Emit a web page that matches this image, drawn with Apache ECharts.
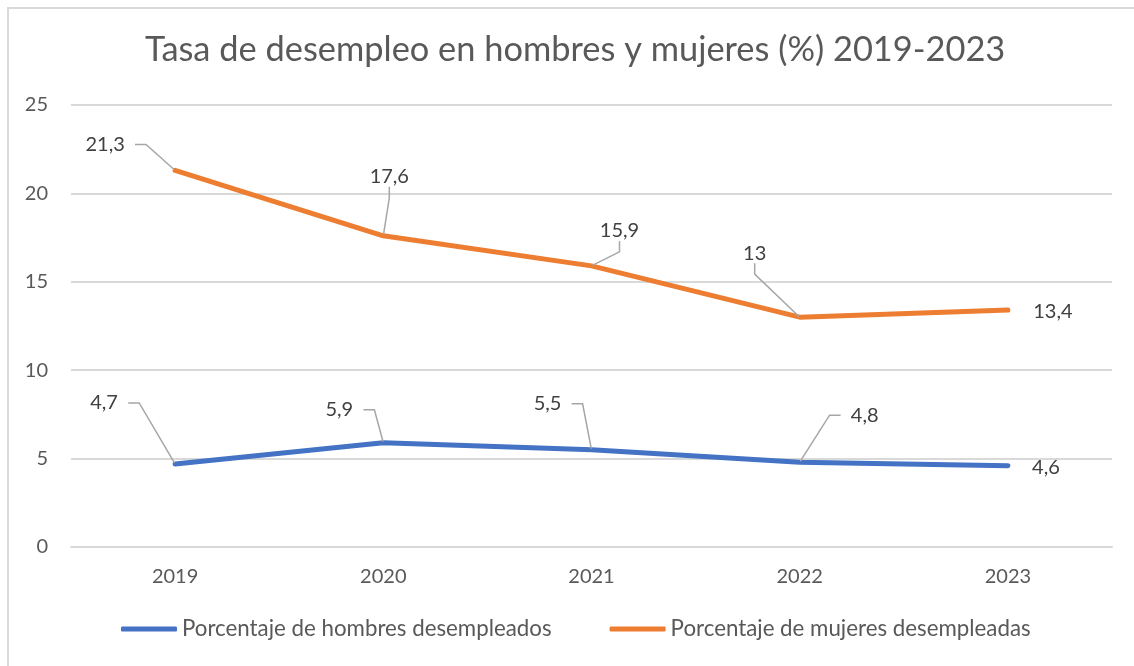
<!DOCTYPE html>
<html>
<head>
<meta charset="utf-8">
<script src="https://cdn.jsdelivr.net/npm/echarts@6/dist/echarts.min.js"></script>
<style>
  html, body { margin: 0; padding: 0; background: #fff; }
  #wrap { position: relative; width: 1134px; height: 666px; }
  #main { width: 1134px; height: 666px; }
  #frame { position: absolute; left: 7px; top: 7px; right: -2px; bottom: -2px;
           border-top: 2px solid #d9d9d9; border-left: 2px solid #d9d9d9; pointer-events: none; }
</style>
</head>
<body>
<div id="wrap">
  <div id="main"></div>
  <div id="frame"></div>
</div>
<script>
// datos
var years = ['2019', '2020', '2021', '2022', '2023'];
var hombres = [4.7, 5.9, 5.5, 4.8, 4.6];
var mujeres = [21.3, 17.6, 15.9, 13, 13.4];
var seriesNames = ['Porcentaje de hombres desempleados', 'Porcentaje de mujeres desempleadas'];
var yTicks = [0, 5, 10, 15, 20, 25];

// desplazamiento de etiquetas (centro de etiqueta respecto al punto, px)
var labelOffsets = [
  [[-71, -61], [-44, -33], [-44, -46], [65, -47], [38, 2]],
  [[-70, -26], [6, -59], [28, -35], [-45, -64], [45, 1]]
];

var font = 'Lato, "Open Sans", sans-serif';

function fmt(v) { return '  ' + String(v).replace('.', ',') + '  '; }

function buildData(values) {
  return values.map(function (v, i) {
    if (i === values.length - 1) return { value: v, labelLine: { show: false } };
    return v;
  });
}

var myChart = echarts.init(document.getElementById('main'), null, { renderer: 'canvas' });

var lineSeries = [hombres, mujeres].map(function (vals, s) {
  return {
    name: seriesNames[s],
    type: 'line',
    data: buildData(vals),
    symbol: 'circle',
    symbolSize: 2,
    showSymbol: true,
    lineStyle: { width: 5, cap: 'round', join: 'round' },
    label: {
      show: true,
      position: 'top',
      formatter: function (p) { return fmt(p.value); },
      fontFamily: font,
      fontSize: 20,
      color: '#404040'
    },
    labelLine: {
      show: true,
      length2: 11,
      minTurnAngle: 0,
      lineStyle: { color: '#a6a6a6', width: 1.5 }
    },
    labelLayout: function (params) {
      var o = labelOffsets[params.seriesIndex][params.dataIndex];
      var cx = params.rect.x + params.rect.width / 2;
      var cy = params.rect.y + params.rect.height / 2;
      return { x: cx + o[0], y: cy + o[1], align: 'center', verticalAlign: 'middle' };
    },
    emphasis: { disabled: true }
  };
});

myChart.setOption({
  color: ['#4472C4', '#ED7D31'],
  animation: false,
  title: {
    text: 'Tasa de desempleo en hombres y mujeres (%) 2019-2023',
    left: 140,
    top: 28,
    textStyle: { fontFamily: font, fontSize: 34.4, fontWeight: 'normal', color: '#595959' }
  },
  legend: {
    bottom: 21,
    left: 116,
    itemGap: 58,
    itemWidth: 56,
    itemHeight: 5,
    icon: 'roundRect',
    textStyle: { fontFamily: font, fontSize: 22.3, color: '#595959' },
    data: seriesNames
  },
  grid: { left: 71, right: 22, top: 105, bottom: 119, containLabel: false },
  xAxis: {
    type: 'category',
    data: years,
    boundaryGap: true,
    axisLine: { lineStyle: { color: '#d9d9d9', width: 2 } },
    axisTick: { show: false },
    axisLabel: { fontFamily: font, fontSize: 20, color: '#595959', margin: 20 }
  },
  yAxis: {
    type: 'value',
    min: yTicks[0],
    max: yTicks[yTicks.length - 1],
    interval: yTicks[1] - yTicks[0],
    axisLine: { show: false },
    axisTick: { show: false },
    splitLine: { lineStyle: { color: '#d9d9d9', width: 2 } },
    axisLabel: { fontFamily: font, fontSize: 20, color: '#595959', margin: 23 }
  },
  series: lineSeries
});
</script>
</body>
</html>
